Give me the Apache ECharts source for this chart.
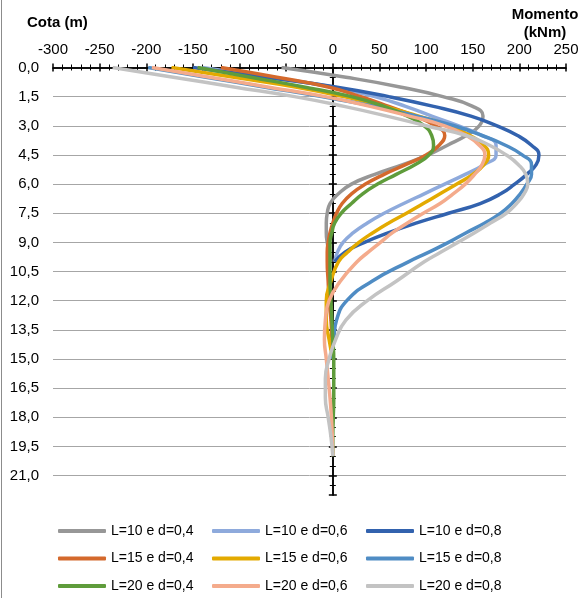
<!DOCTYPE html>
<html>
<head>
<meta charset="utf-8">
<script src="https://cdn.jsdelivr.net/npm/echarts@6/dist/echarts.min.js"></script>
<style>
  html, body { margin: 0; padding: 0; background: #fff; }
  #main { width: 584px; height: 598px; }
</style>
</head>
<body>
<div id="main"></div>
<script>
// profundidade (m) - eixo vertical
const depth = [0, 0.5, 1, 1.5, 2, 2.5, 3, 3.5, 4, 4.5, 5, 5.5, 6, 6.5, 7, 7.5, 8, 8.5, 9, 9.5, 10,
  11, 12, 13, 14, 15, 16, 17, 18, 19, 20];

// momento (kNm) para cada estaca
const mL10d04 = [-55, 14, 72, 118, 150, 161, 157, 143, 123, 102, 75, 45, 20, 6, -3, -6, -7, -7, -6, -4, -2];
const mL10d06 = [-140, -68, 0, 45, 78, 106, 135, 160, 175, 175, 162, 142, 120, 98, 76, 55, 37, 22, 11, 5, 2];
const mL10d08 = [-150, -72, 3, 60, 108, 148, 176, 198, 213, 221, 218, 208, 195, 180, 158, 124, 90, 60, 34, 13, 2];
const mL15d04 = [-120, -60, -5, 30, 60, 88, 110, 120, 114, 100, 78, 55, 35, 20, 10, 4, 0, -3, -5, -6, -6,
  -5, -4, -2, -1, 0];
const mL15d06 = [-173, -106, -40, 12, 55, 92, 125, 147, 162, 167, 162, 150, 133, 115, 97, 79, 60, 43, 28, 16, 6,
  -2, -7, -7, -4, 0];
const mL15d08 = [-198, -136, -74, -12, 45, 90, 130, 160, 185, 203, 213, 213, 208, 201, 192, 180, 163, 143, 124, 103, 81,
  42, 15, 4, 1, -1];
const mL20d04 = [-145, -88, -31, 20, 55, 80, 98, 106, 108, 103, 88, 68, 48, 32, 20, 9, 2, -1, -3, -3, -3,
  -3, -2, -1, 0, 1, 1, 1, 0.5, 0, 0];
const mL20d06 = [-194, -132, -70, -8, 40, 82, 120, 143, 157, 163, 160, 152, 142, 129, 115, 97, 80, 64, 51, 38, 26,
  8, -4, -8, -9, -7, -5, -3, -1.5, -0.5, 0];
const mL20d08 = [-236, -171, -106, -41, 12, 58, 100, 143, 168, 186, 199, 207, 209, 205, 197, 186, 169, 152, 134, 116, 98,
  68, 37, 14, 3, -4, -8, -8, -5, -2, 0];

const names = ["L=10 e d=0,4", "L=10 e d=0,6", "L=10 e d=0,8",
  "L=15 e d=0,4", "L=15 e d=0,6", "L=15 e d=0,8",
  "L=20 e d=0,4", "L=20 e d=0,6", "L=20 e d=0,8"];
const moments = [mL10d04, mL10d06, mL10d08, mL15d04, mL15d06, mL15d08, mL20d04, mL20d06, mL20d08];
const colors = ["#979797", "#8eaadc", "#3262ae", "#d4692c", "#e3aa00", "#4f8cc4", "#5f9c3b", "#f4ab8c", "#c3c3c3"];

const FONT = "'Liberation Sans', Arial, sans-serif";

// [momento, profundidade] para cada ponto
function pairs(m) {
  return m.map(function (v, i) { return [v, depth[i]]; });
}

const tickStyle = { color: "#000", width: 1.5 };

function xAx(pos, labels) {
  return {
    type: "value", position: pos, min: -300, max: 250, interval: 50,
    axisLine: { onZero: !labels, lineStyle: tickStyle },
    axisTick: { length: 4, lineStyle: tickStyle },
    minorTick: { show: true, splitNumber: 5, length: 3, lineStyle: { color: "#000", width: 1 } },
    axisLabel: { show: labels, margin: 10, fontSize: 15, color: "#000", fontFamily: FONT },
    splitLine: { show: false }
  };
}

function yTickAx(pos) {
  // eixo vertical no zero do momento, marcas cruzando a linha
  return {
    type: "value", position: pos, inverse: true, min: 0, max: 22, interval: 1.5,
    axisLine: { onZero: true, lineStyle: tickStyle },
    axisTick: { length: 4, lineStyle: tickStyle },
    minorTick: { show: true, splitNumber: 3, length: 3, lineStyle: { color: "#000", width: 1 } },
    axisLabel: { show: false },
    splitLine: { show: false }
  };
}

const myChart = echarts.init(document.getElementById("main"));

const option = {
  animation: false,
  backgroundColor: "#fff",
  grid: { left: 53, right: 18, top: 67.5, bottom: 103 },
  xAxis: [xAx("top", true), xAx("bottom", false)],
  yAxis: [
    {
      type: "value", position: "left", inverse: true, min: 0, max: 22, interval: 1.5,
      axisLine: { show: false, onZero: false },
      axisTick: { show: false },
      axisLabel: {
        margin: 14, fontSize: 15, color: "#000", fontFamily: FONT, showMaxLabel: false,
        formatter: function (v) { return v.toFixed(1).replace(".", ","); }
      },
      splitLine: { show: true, showMinLine: false, showMaxLine: false, lineStyle: { color: "#a6a6a6", width: 1 } }
    },
    yTickAx("left"),
    yTickAx("right")
  ],
  legend: [0, 1, 2].map(function (c) {
    return {
      orient: "vertical", left: 58 + c * 154, top: 524, padding: 0,
      itemWidth: 48, itemHeight: 4, itemGap: 13.5, icon: "roundRect",
      textStyle: { fontSize: 14, color: "#000", fontFamily: FONT },
      data: [names[c], names[c + 3], names[c + 6]]
    };
  }),
  graphic: [
    { type: "line", shape: { x1: 1.5, y1: 0, x2: 1.5, y2: 598 }, style: { stroke: "#8c8c8c", lineWidth: 1 } },
    {
      type: "text", x: 27, y: 15,
      style: { text: "Cota (m)", font: "bold 15px " + FONT, fill: "#000" }
    },
    {
      type: "text", x: 545, y: 6,
      style: { text: "Momento\n(kNm)", font: "bold 15px " + FONT, fill: "#000", align: "center", lineHeight: 18 }
    }
  ],
  series: names.map(function (n, i) {
    return {
      name: n,
      type: "line",
      xAxisIndex: 0,
      yAxisIndex: 0,
      data: pairs(moments[i]),
      smooth: true,
      showSymbol: false,
      color: colors[i],
      lineStyle: { width: 3.5, color: colors[i] }
    };
  })
};

myChart.setOption(option);
</script>
</body>
</html>
